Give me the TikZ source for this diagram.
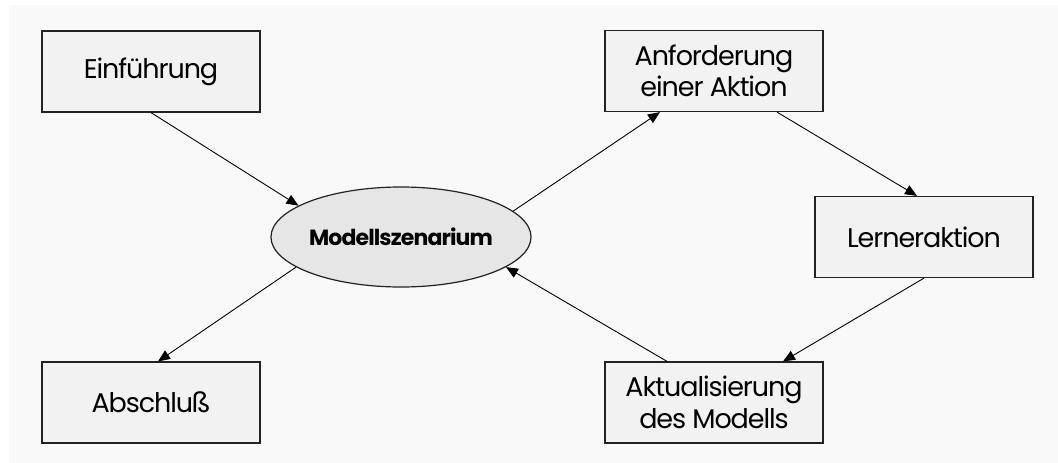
\documentclass[tikz,border=0pt]{standalone}
\usepackage{fontspec}
\setmainfont{Poppins}[LetterSpace=-4]
\usetikzlibrary{arrows.meta,shapes.geometric}
\definecolor{panel}{HTML}{F9F9F9}
\definecolor{boxfill}{HTML}{F2F2F2}
\definecolor{ellfill}{HTML}{E6E6E6}
\definecolor{edge}{HTML}{222222}
\begin{document}
\begin{tikzpicture}[x=1pt,y=-1pt,
  stepbox/.style={draw=edge, line width=1.2pt, fill=boxfill, minimum width=218pt,
    minimum height=81pt, inner sep=0pt, align=center, font=\fontsize{27}{31.5}\selectfont},
  hub/.style={draw=edge, line width=1.2pt, fill=ellfill, ellipse, minimum width=240pt,
    minimum height=100pt, inner sep=0pt, font=\fontsize{22}{24}\selectfont\bfseries},
  link/.style={draw=black, line width=0.9pt, -{Triangle[length=12pt,width=10pt]}}]
\useasboundingbox (0,0) rectangle (1058,463);
\fill[panel] (9,5) rectangle (1058,463);

\node[stepbox] (ein) at (151,71.5) {Einführung};
\node[stepbox] (anf) at (714,71) {Anforderung\\einer Aktion};
\node[stepbox] (ler) at (924,237) {Lerneraktion};
\node[stepbox] (abs) at (151,402.5) {Abschluß};
\node[stepbox] (akt) at (714,402.5) {Aktualisierung\\des Modells};
\node[hub] (mod) at (401,237) {Modellszenarium};

\draw[link] (ein.south) -- (mod.163);
\draw[link] (mod.196) -- ([xshift=7pt]abs.north);
\draw[link] (mod.13) -- ([xshift=-54pt]anf.south);
\draw[link] ([xshift=63pt]anf.south) -- ([xshift=-7pt]ler.north);
\draw[link] (ler.south) -- ([xshift=69pt]akt.north);
\draw[link] ([xshift=-47pt]akt.north) -- (mod.344);
\end{tikzpicture}
\end{document}
